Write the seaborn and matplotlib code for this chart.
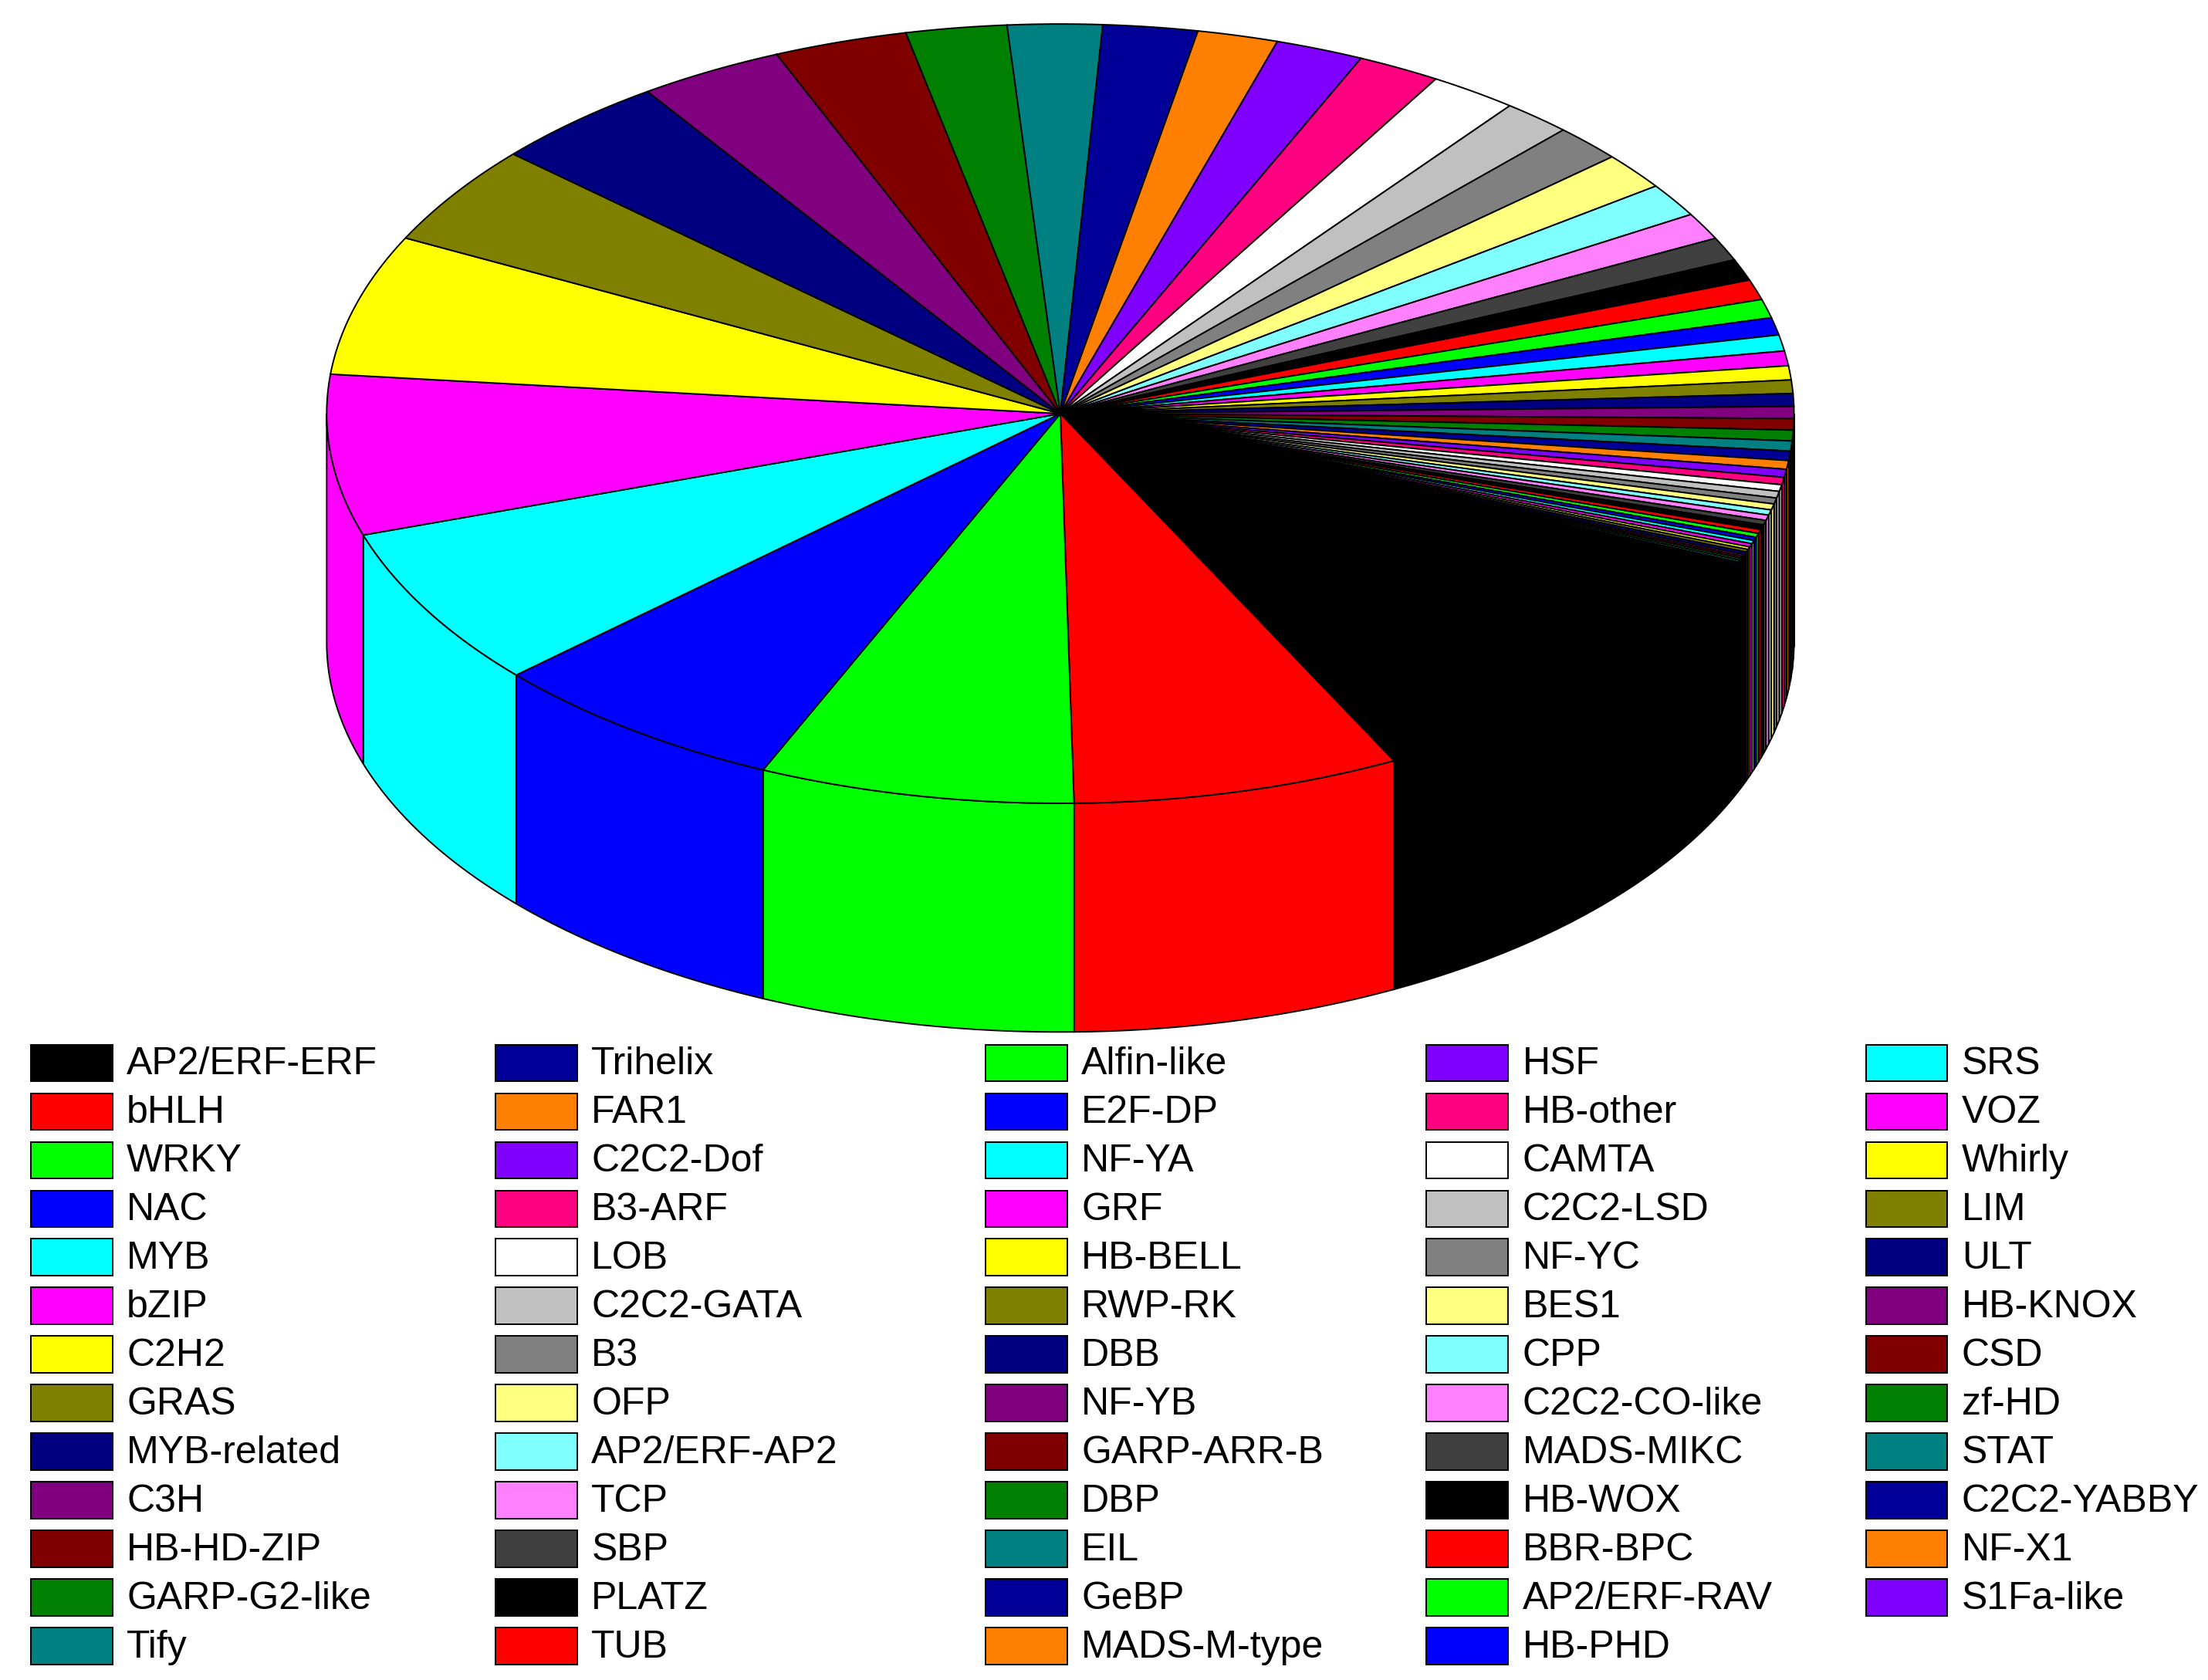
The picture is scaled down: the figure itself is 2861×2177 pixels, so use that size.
import numpy as np
import matplotlib
matplotlib.use("Agg")
import matplotlib.pyplot as plt
import seaborn as sns
from matplotlib.patches import Polygon, Rectangle

sns.set_theme(style="white")
plt.rcParams['font.family'] = ['Liberation Sans', 'DejaVu Sans']

families = ["AP2/ERF-ERF","bHLH","WRKY","NAC","MYB","bZIP","C2H2","GRAS","MYB-related","C3H",
            "HB-HD-ZIP","GARP-G2-like","Tify","Trihelix","FAR1","C2C2-Dof","B3-ARF","LOB","C2C2-GATA","B3",
            "OFP","AP2/ERF-AP2","TCP","SBP","PLATZ","TUB","Alfin-like","E2F-DP","NF-YA","GRF",
            "HB-BELL","RWP-RK","DBB","NF-YB","GARP-ARR-B","DBP","EIL","GeBP","MADS-M-type","HSF",
            "HB-other","CAMTA","C2C2-LSD","NF-YC","BES1","CPP","C2C2-CO-like","MADS-MIKC","HB-WOX","BBR-BPC",
            "AP2/ERF-RAV","HB-PHD","SRS","VOZ","Whirly","LIM","ULT","HB-KNOX","CSD","zf-HD",
            "STAT","C2C2-YABBY","NF-X1","S1Fa-like"]
values = [40, 26, 25, 24, 24, 24, 21, 15, 14, 11.5,
          10.6, 8, 7.5, 7.5, 6.4, 7, 6.6, 7, 5.5, 5.5,
          5.5, 5, 4, 3.5, 3.2, 3.0, 2.8, 2.6, 2.4, 2.2,
          2.1, 2.0, 1.9, 1.8, 1.7, 1.6, 1.5, 1.4, 1.3, 1.2,
          1.1, 1.0, 1.0, 0.9, 0.9, 0.8, 0.8, 0.7, 0.7, 0.6,
          0.6, 0.5, 0.5, 0.5, 0.4, 0.4, 0.4, 0.3, 0.3, 0.3,
          0.3, 0.2, 0.2, 0.2]
base_colors = ["#000000","#FF0000","#00FF00","#0000FF","#00FFFF","#FF00FF","#FFFF00","#808000",
               "#000080","#800080","#800000","#008000","#008080","#000099","#FF8000","#8000FF",
               "#FF0080","#FFFFFF","#C0C0C0","#808080","#FFFF80","#80FFFF","#FF80FF","#404040"]
colors = [base_colors[i % len(base_colors)] for i in range(len(families))]

fig = plt.figure(figsize=(14.305, 10.885), dpi=200)
ax = fig.add_axes([0, 0, 1, 1])
ax.set_xlim(0, 1568)
ax.set_ylim(1190, 0)
ax.axis("off")

xc, yc, rx, ry, depth = 753, 293, 521, 276, 162
start = -23.0
lw = 0.7
vals = np.array(values, float)
ang = start - np.concatenate([[0], np.cumsum(vals)]) / vals.sum() * 360.0

def pt(t, dy=0.0):
    r = np.deg2rad(t)
    return xc + rx * np.cos(r), yc - ry * np.sin(r) + dy

for i in range(len(vals)):
    a1, a2 = ang[i], ang[i + 1]
    for lo, hi in [(-180, 0), (-540, -360)]:
        s, e = min(a1, hi), max(a2, lo)
        if s <= e:
            continue
        ts = np.linspace(s, e, max(3, int((s - e) * 2)))
        top = [pt(t) for t in ts]
        bot = [pt(t, depth) for t in ts[::-1]]
        ax.add_patch(Polygon(top + bot, closed=True, facecolor=colors[i],
                             edgecolor="black", linewidth=lw))
for i in range(len(vals)):
    a1, a2 = ang[i], ang[i + 1]
    ts = np.linspace(a1, a2, max(3, int((a1 - a2) * 2)))
    poly = [(xc, yc)] + [pt(t) for t in ts]
    ax.add_patch(Polygon(poly, closed=True, facecolor=colors[i],
                         edgecolor="black", linewidth=lw))

col_x = [22, 352, 700, 1013, 1325]
row0, pitch = 753, 34.4
per_col = [13, 13, 13, 13, 12]
k = 0
for c, n in enumerate(per_col):
    for r in range(n):
        y = row0 + r * pitch
        ax.add_patch(Rectangle((col_x[c], y - 13), 58, 26, facecolor=colors[k],
                               edgecolor="black", linewidth=lw))
        ax.text(col_x[c] + 68, y + 1, families[k], fontsize=18, va="center",
                ha="left", color="black")
        k += 1

fig.savefig("out.png", dpi=200)
